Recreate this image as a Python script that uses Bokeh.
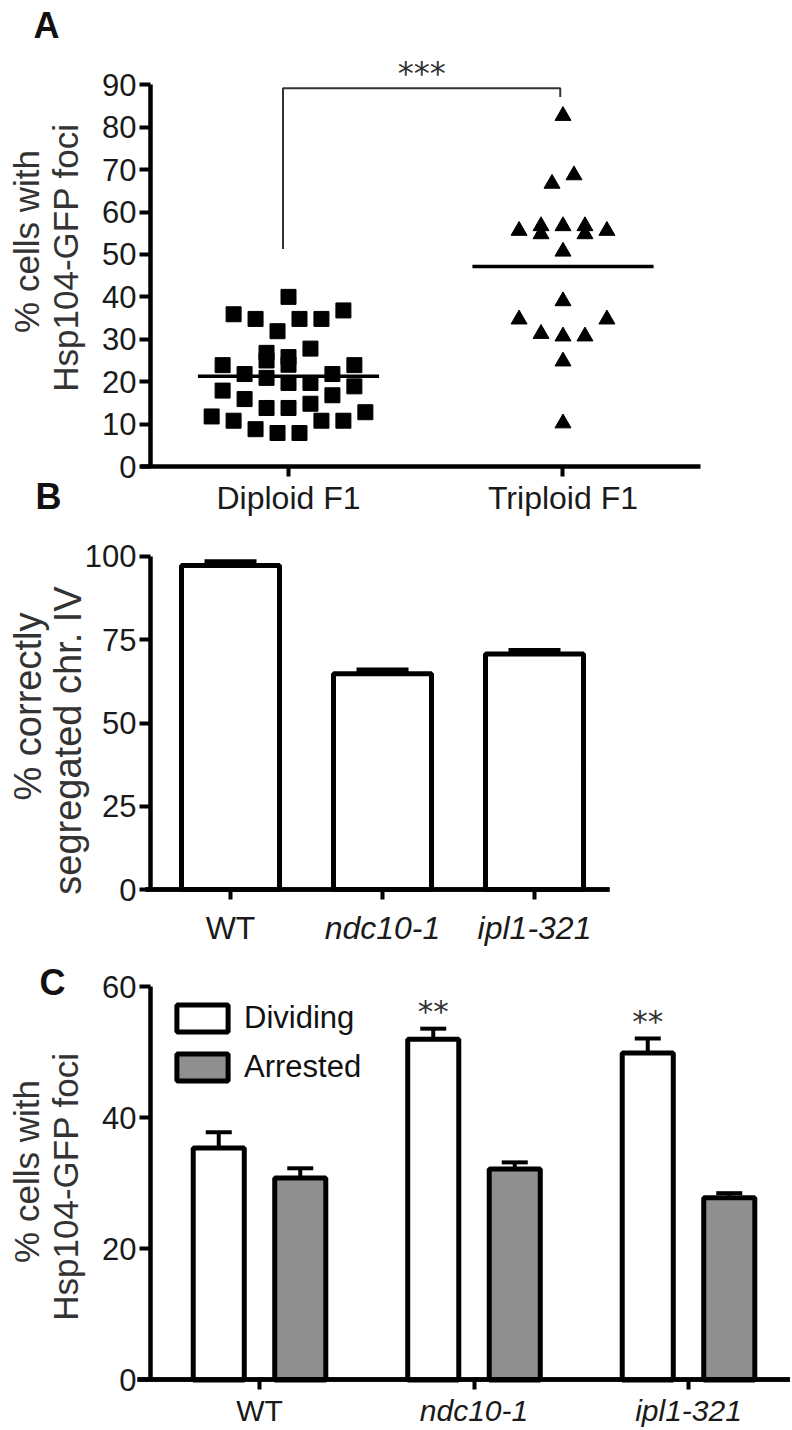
import numpy as np
from bokeh.plotting import figure
from bokeh.layouts import column
from bokeh.models import FixedTicker, LinearAxis, Whisker, TeeHead, ColumnDataSource
from bokeh.core.properties import value
from bokeh.embed import file_html
from bokeh.resources import INLINE

FONT = "Liberation Sans"
STAR_FONT = "DejaVu Sans"

# ---------------- Panel A data ----------------
groups_a = ["Diploid F1", "Triploid F1"]
diploid = [40.0, 35.9, 34.8, 31.9, 34.8, 34.8, 36.8, 27.8, 26.8, 25.0, 25.8, 24.0,
           23.9, 23.9, 21.8, 20.9, 21.8, 19.7, 19.7, 17.9, 18.9, 15.9, 16.8, 13.8,
           13.8, 14.8, 11.8, 12.8, 10.8, 10.8, 10.8, 8.8, 7.9, 7.9]
diploid_dx = [0.0, -0.20, -0.12, -0.04, 0.04, 0.12, 0.20, 0.08, -0.08, -0.08, 0.0, 0.0,
              -0.24, 0.24, -0.16, -0.08, 0.16, 0.0, 0.08, -0.24, 0.24, -0.16, 0.16, -0.08,
              0.0, 0.08, -0.28, 0.28, -0.20, 0.12, 0.20, -0.12, -0.04, 0.04]
triploid = [82.7, 66.7, 68.7, 55.6, 56.7, 54.8, 56.7, 56.7, 54.8, 55.6, 50.7, 39.0,
            34.7, 34.7, 31.3, 30.7, 30.7, 24.8, 10.2]
triploid_dx = [0.0, -0.04, 0.04, -0.16, -0.08, -0.08, 0.0, 0.08, 0.08, 0.16, 0.0, 0.0,
               -0.16, 0.16, -0.08, 0.0, 0.08, 0.0, 0.0]
bracket_x = [0.98, 0.98, 1.99, 1.99]
bracket_y = [51.3, 89.2, 89.2, 87.1]
sig_a = "***"
ticks_a = [0, 10, 20, 30, 40, 50, 60, 70, 80, 90]
ytitle_a = ["% cells with", "Hsp104-GFP foci"]

# ---------------- Panel B data ----------------
strains = ["WT", "ndc10-1", "ipl1-321"]
strain_italic = [False, True, True]
seg_pct = [97.3, 64.8, 70.7]
seg_err = [1.1, 1.1, 1.1]
ticks_b = [0, 25, 50, 75, 100]
ytitle_b = ["% correctly", "segregated chr. IV"]

# ---------------- Panel C data ----------------
conditions = ["Dividing", "Arrested"]
div_pct = [35.4, 52.0, 49.9]
div_err = [2.4, 1.6, 2.2]
arr_pct = [30.8, 32.2, 27.8]
arr_err = [1.5, 1.0, 0.7]
sig_c = ["", "**", "**"]
ticks_c = [0, 20, 40, 60]
ytitle_c = ["% cells with", "Hsp104-GFP foci"]

W = 790
TICK_COLOR = "#1a1a1a"
TITLE_COLOR = "#333333"


def make_fig(h, xr, yr):
    p = figure(width=W, height=h, x_range=xr, y_range=yr, output_backend="svg",
               toolbar_location=None, min_border=0, min_border_left=0,
               min_border_right=0, min_border_top=0, min_border_bottom=0)
    p.xgrid.visible = False
    p.ygrid.visible = False
    p.outline_line_color = None
    p.background_fill_color = "white"
    p.border_fill_color = "white"
    return p


def style_axis(ax, size, standoff, tick_out):
    ax.axis_line_width = 4.5
    ax.axis_line_color = "black"
    ax.major_tick_line_width = 4
    ax.major_tick_line_color = "black"
    ax.major_tick_out = tick_out
    ax.major_tick_in = 0
    ax.minor_tick_line_color = None
    ax.major_label_text_font = FONT
    ax.major_label_text_color = TICK_COLOR
    ax.major_label_text_font_size = size
    ax.major_label_standoff = standoff


def y_axis(p, ticks, loc, bounds):
    ax = p.yaxis[0]
    ax.fixed_location = loc
    ax.bounds = bounds
    ax.ticker = FixedTicker(ticks=ticks)
    style_axis(ax, "31px", 3, 11)


def cat_axes(p, xs, labels, italic, bounds, size, standoff):
    """x axis at y=0; upright and italic category labels on two coincident axes."""
    main = p.xaxis[0]
    main.fixed_location = 0
    main.bounds = bounds
    up = [(x, l) for x, l, i in zip(xs, labels, italic) if not i]
    it = [(x, l) for x, l, i in zip(xs, labels, italic) if i]
    main.ticker = FixedTicker(ticks=[x for x, _ in up])
    main.major_label_overrides = {x: l for x, l in up}
    style_axis(main, size, standoff, 10)
    if it:
        ax2 = LinearAxis(fixed_location=0, bounds=bounds,
                         ticker=FixedTicker(ticks=[x for x, _ in it]),
                         major_label_overrides={x: l for x, l in it})
        style_axis(ax2, size, standoff, 10)
        ax2.major_label_text_font_style = "italic"
        p.add_layout(ax2, "below")


def y_title(p, lines, xs, ys, size):
    p.text(x=xs, y=ys, text=lines, angle=np.pi / 2, text_align="center",
           text_baseline="alphabetic", text_font=value(FONT), text_font_size=size,
           text_color=TITLE_COLOR)


def letter(p, t, x, y):
    p.text(x=[x], y=[y], text=[t], text_align="center", text_baseline="middle",
           text_font=value(FONT), text_font_style="bold", text_font_size="36px",
           text_color="#111111")


# ================= Panel A =================
pa = make_fig(520, (-0.0492, 2.8288), (-12.73, 109.88))
y_axis(pa, ticks_a, 0.4972, (0, 90))
cat_axes(pa, [1, 2], groups_a, [False, False], (0.4608, 2.5009), "32px", 3)

pa.scatter(x=[1 + d for d in diploid_dx], y=diploid, marker="square", size=15,
           fill_color="black", line_color="black")
pa.scatter(x=[2 + d for d in triploid_dx], y=triploid, marker="triangle", size=16,
           fill_color="black", line_color="black")
centers_a = [1, 2]
means_a = [float(np.mean(diploid)), float(np.mean(triploid))]
pa.segment(x0=[c - 0.33 for c in centers_a], x1=[c + 0.33 for c in centers_a],
           y0=means_a, y1=means_a, line_width=3.5, line_color="black")
pa.line(x=bracket_x, y=bracket_y, line_width=2, line_color="#333333")
pa.text(x=[float(np.mean(bracket_x))], y=[max(bracket_y) + 3.5], text=[sig_a],
        text_align="center", text_baseline="alphabetic", text_font=value(STAR_FONT),
        text_font_size="32px", text_color="#333333")
y_title(pa, ytitle_a, [0.0455, 0.1876], [53.05, 49.28], "35px")
letter(pa, "A", 0.1184, 104.0)
letter(pa, "B", 0.1257, -7.0)

# ================= Panel B =================
pb = make_fig(440, (-0.5132, 4.6842), (-21.32, 110.81))
xb = [1, 2, 3]
y_axis(pb, ticks_b, 0.4736, (0, 100))
cat_axes(pb, xb, strains, strain_italic, (0.4407, 3.4934), "32px", 10)
pb.vbar(x=xb, top=seg_pct, width=0.645, bottom=0, fill_color="white",
        line_color="black", line_width=5)
src_b = ColumnDataSource(dict(x=xb, lo=seg_pct, hi=[v + e for v, e in zip(seg_pct, seg_err)]))
pb.add_layout(Whisker(source=src_b, base="x", lower="lo", upper="hi", dimension="height",
                      line_width=5, line_color="black", lower_head=None,
                      upper_head=TeeHead(size=52, line_width=5, line_color="black")))
y_title(pb, ytitle_b, [-0.3290, -0.0724], [54.95, 44.74], "38px")

# ================= Panel C =================
pc = make_fig(468, (-0.2075, 3.4755), (-7.40, 64.0))
xc = [1, 2, 3]
y_axis(pc, ticks_c, 0.4918, (0, 60))
cat_axes(pc, xc, strains, strain_italic, (0.4312, 3.4755), "30px", 4)
xd = [x - 0.19 for x in xc]
xa = [x + 0.19 for x in xc]
pc.vbar(x=xd, top=div_pct, width=0.238, bottom=0, fill_color="white",
        line_color="black", line_width=5, legend_label=conditions[0])
pc.vbar(x=xa, top=arr_pct, width=0.238, bottom=0, fill_color="#8f8f8f",
        line_color="black", line_width=5, legend_label=conditions[1])
for xs, vals, errs in ((xd, div_pct, div_err), (xa, arr_pct, arr_err)):
    src = ColumnDataSource(dict(x=xs, lo=vals, hi=[v + e for v, e in zip(vals, errs)]))
    pc.add_layout(Whisker(source=src, base="x", lower="lo", upper="hi", dimension="height",
                          line_width=4, line_color="black", lower_head=None,
                          upper_head=TeeHead(size=26, line_width=4, line_color="black")))
pc.text(x=xd, y=[v + e + 2.7 for v, e in zip(div_pct, div_err)], text=sig_c,
        text_align="center", text_baseline="alphabetic", text_font=value(STAR_FONT),
        text_font_size="31px", text_color="#333333")
y_title(pc, ytitle_c, [-0.0863, 0.0955], [31.81, 29.52], "35px")
letter(pc, "C", 0.0349, 60.6)

lg = pc.legend[0]
lg.location = (170, 343)
lg.margin = 0
lg.padding = 0
lg.spacing = 13
lg.glyph_width = 64
lg.glyph_height = 34
lg.label_standoff = 10
lg.label_text_font = FONT
lg.label_text_font_size = "31px"
lg.label_text_color = "#111111"
lg.background_fill_alpha = 0
lg.border_line_color = None

layout = column(pa, pb, pc, spacing=0)
open("out.html", "w").write(file_html(layout, INLINE, "Figure"))
